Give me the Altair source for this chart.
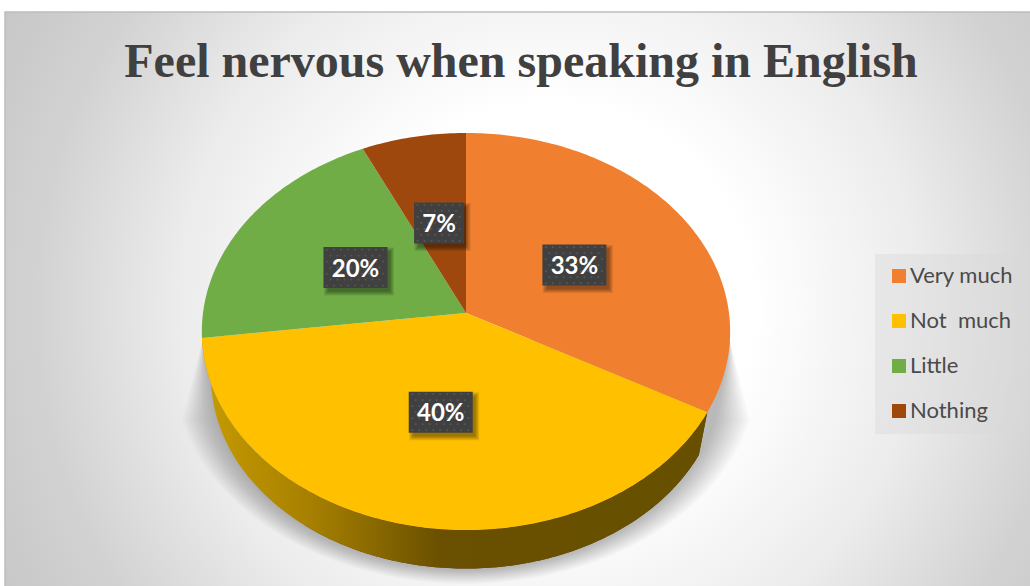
import math
import altair as alt

# Chart content
TITLE = "Feel nervous when speaking in English"
categories = ["Very much", "Not\u00a0 much", "Little", "Nothing"]
shares = [33, 40, 20, 7]
colors = ["#F07F30", "#FFC000", "#70AD47", "#9E480E"]

W, H = 1030, 586

# Perspective disc: apex of the slices, half-axes and foreshortening
APEX_X, APEX_Y = 466, 313
AX, AY, K = 263, 196.8, 0.0932
# Lower rim of the disc: scale about the upper rim centre, then move down
RIM_CY, LOW_CY, LOW_S = 331.5, 377.0, 0.965


def disc(pct, r=1.0):
    a = math.radians(pct * 3.6)
    d = 1 + K * r * math.cos(a)
    return (APEX_X + AX * r * math.sin(a) / d, APEX_Y - AY * r * math.cos(a) / d)


def lower(p):
    return (APEX_X + LOW_S * (p[0] - APEX_X), LOW_CY + LOW_S * (p[1] - RIM_CY))


def sweep(p0, p1, step=0.25):
    n = max(2, int(abs(p1 - p0) / step))
    return [disc(p0 + (p1 - p0) * i / n) for i in range(n + 1)]


def feature(points, **props):
    ring = [list(p) for p in points] + [list(points[0])]
    return {"type": "Feature", "properties": props,
            "geometry": {"type": "Polygon", "coordinates": [ring]}}


def rect(x0, y0, x1, y1, **props):
    return feature([(x0, y0), (x1, y0), (x1, y1), (x0, y1)], **props)


projection = alt.Projection(type="identity", scale=1, translate=[0, 0])


def shapes(feats, **mark):
    return alt.Chart(alt.Data(values=feats)).mark_geoshape(**mark).properties(projection=projection)


# Cumulative slice boundaries
bounds = [0]
for s in shares:
    bounds.append(bounds[-1] + s)

# Panel with its radial grey wash; it runs past the lower edge so the wash is taller than wide
panel = shapes([rect(5, 12, W + 4, 786)],
               stroke="#bdbdbd", strokeWidth=1.5,
               fill={"gradient": "radial", "x1": 0.53, "y1": 0.41, "r1": 0,
                     "x2": 0.53, "y2": 0.41, "r2": 0.68,
                     "stops": [{"offset": 0, "color": "#ffffff"},
                               {"offset": 0.29, "color": "#ffffff"},
                               {"offset": 0.53, "color": "#ececec"},
                               {"offset": 0.735, "color": "#d2d2d2"},
                               {"offset": 1, "color": "#bfbfbf"}]})

# Soft shadow under the disc, built from nested outlines
shadow_feats = []
for i in range(18):
    t = i / 17
    rx, ry = 256 + 36 * t, 192 + 21 * t
    cy = 377 - 6 * t
    start = math.asin(min(1, (420 - cy) / ry))
    n = 80
    arc = []
    for j in range(n + 1):
        b = start + (math.pi - 2 * start) * j / n
        arc.append((APEX_X + rx * math.cos(b), cy + ry * math.sin(b)))
    shadow_feats.append(feature([(730, 340)] + arc + [(203, 338)]))
shadow = shapes(shadow_feats, fill="#000000", opacity=0.017)

# Side wall of the disc
side_orange = sweep(60, bounds[1])
side_yellow = sweep(bounds[1], bounds[2])
wall_orange = shapes(
    [feature(side_orange + [lower(p) for p in reversed(side_orange)])], fill="#6B3414")
wall_yellow = shapes(
    [feature(side_yellow + [lower(p) for p in reversed(side_yellow)])],
    fill={"gradient": "linear", "x1": 0, "y1": 0, "x2": 1, "y2": 0,
          "stops": [{"offset": 0, "color": "#C79B02"},
                    {"offset": 0.22, "color": "#A67F00"},
                    {"offset": 0.47, "color": "#6A5000"},
                    {"offset": 1, "color": "#665000"}]})

# Top face: one wedge per category
wedges = [feature([(APEX_X, APEX_Y)] + sweep(bounds[i], bounds[i + 1]), name=c)
          for i, c in enumerate(categories)]
top = shapes(wedges).encode(
    color=alt.Color("properties.name:N",
                    scale=alt.Scale(domain=categories, range=colors),
                    legend=alt.Legend(title=None, orient="none", legendX=888, legendY=265,
                                      symbolType="square", symbolSize=196,
                                      symbolStrokeWidth=0, symbolOpacity=1,
                                      labelFont="Lato", labelFontSize=22,
                                      labelColor="#4a4a4a", labelOffset=0,
                                      rowPadding=23, padding=0)))

legend_back = shapes([rect(875, 254, 1023, 434)], fill="#d9d9d9", opacity=0.42)

# Value labels on dark dotted plates, placed half way along each slice
plates, plate_shadows, dots, label_rows = [], [], [], []
for i, s in enumerate(shares):
    cx, cy = disc(bounds[i] + s / 2, 0.49)
    text = f"{s}%"
    half_w = 18 + 7 * len(str(s))
    half_h = 20.5
    plates.append(rect(cx - half_w, cy - half_h, cx + half_w, cy + half_h))
    for k in range(5):
        grow = 2.5 - k
        plate_shadows.append(rect(cx - half_w + 3 - grow, cy - half_h + 3 - grow,
                                  cx + half_w + 4 + grow, cy + half_h + 5 + grow))
    squares = []
    row = 0
    yy = cy - half_h + 2.5
    while yy < cy + half_h - 1:
        xx = cx - half_w + (3.5 if row % 2 == 0 else 7)
        while xx < cx + half_w - 1:
            squares.append([[[xx - 0.9, yy - 0.9], [xx + 0.9, yy - 0.9], [xx + 0.9, yy + 0.9],
                             [xx - 0.9, yy + 0.9], [xx - 0.9, yy - 0.9]]])
            xx += 7
        yy += 6
        row += 1
    dots.append({"type": "Feature", "properties": {},
                 "geometry": {"type": "MultiPolygon", "coordinates": squares}})
    label_rows.append({"label": text, "lon": cx, "lat": cy})

plate_shadow_layer = shapes(plate_shadows, fill="#000000", opacity=0.09)
plate_layer = shapes(plates, fill="#404040")
dot_layer = shapes(dots, fill="#565656")
label_layer = (
    alt.Chart(alt.Data(values=label_rows))
    .mark_text(font="Lato", fontSize=24, fontWeight="bold", color="#ffffff", dy=2)
    .encode(longitude="lon:Q", latitude="lat:Q", text="label:N")
    .properties(projection=projection)
)

chart = (
    alt.layer(panel, shadow, wall_orange, wall_yellow, top, legend_back,
              plate_shadow_layer, plate_layer, dot_layer, label_layer)
    .properties(
        width=W, height=H,
        padding=0,
        autosize=alt.AutoSizeParams(type="none"),
        background="#ffffff",
        title=alt.TitleParams(TITLE, font="Liberation Serif", fontSize=48, fontWeight="bold",
                              color="#404040", anchor="start", align="center",
                              dx=521, dy=87, offset=0),
    )
    .configure_view(stroke=None)
)

chart.save("out.html", embed_options={"renderer": "svg", "actions": False})
